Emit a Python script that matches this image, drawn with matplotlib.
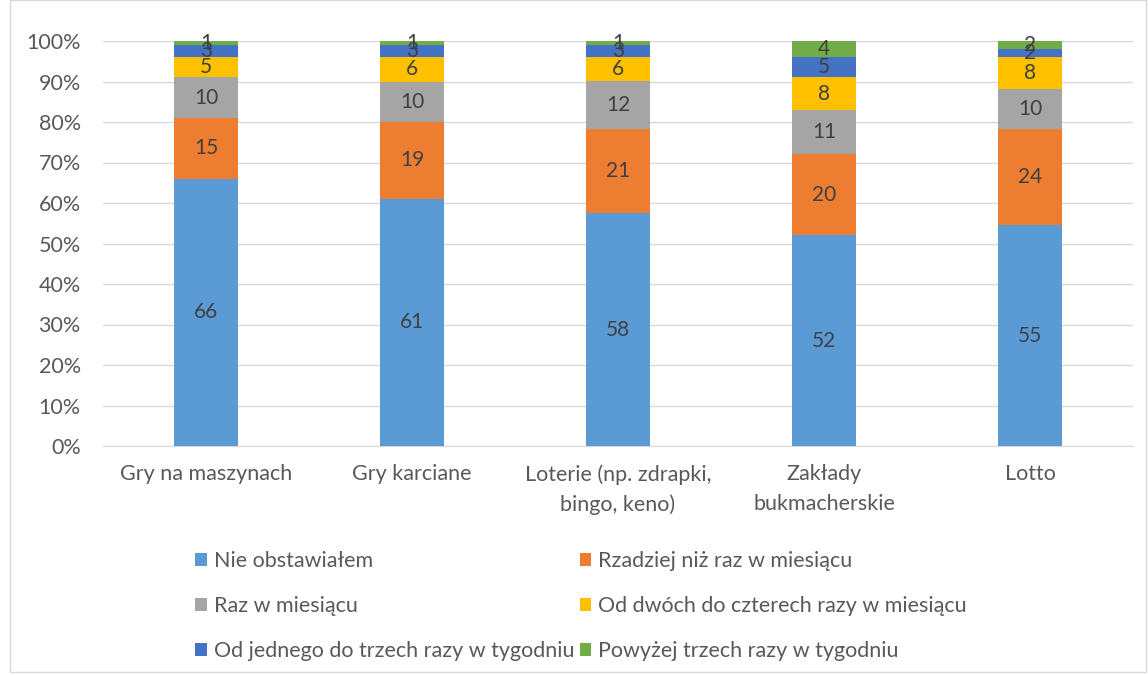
import matplotlib.pyplot as plt
from matplotlib.patches import Rectangle
import numpy as np

plt.rcParams['font.family'] = ['Lato', 'DejaVu Sans']

categories = ["Gry na maszynach", "Gry karciane", "Loterie (np. zdrapki,\nbingo, keno)",
              "Zakłady\nbukmacherskie", "Lotto"]
series_names = ["Nie obstawiałem", "Rzadziej niż raz w miesiącu", "Raz w miesiącu",
                "Od dwóch do czterech razy w miesiącu", "Od jednego do trzech razy w tygodniu",
                "Powyżej trzech razy w tygodniu"]
nie_obstawialem = [66, 61, 58, 52, 55]
rzadziej = [15, 19, 21, 20, 24]
raz_w_miesiacu = [10, 10, 12, 11, 10]
od_dwoch = [5, 6, 6, 8, 8]
od_jednego = [3, 3, 3, 5, 2]
powyzej = [1, 1, 1, 4, 2]
colors = ["#5B9BD5", "#ED7D31", "#A5A5A5", "#FFC000", "#4472C4", "#70AD47"]

data = np.array([nie_obstawialem, rzadziej, raz_w_miesiacu, od_dwoch, od_jednego, powyzej], dtype=float)
pct = data / data.sum(axis=0) * 100

fig = plt.figure(figsize=(11.48, 6.75), dpi=100)
ax = fig.add_axes([103 / 1148, 1 - 446 / 675, 1030 / 1148, 405 / 675])

x = np.arange(len(categories))
bottom = np.zeros(len(categories))
handles = []
for i in range(len(series_names)):
    bars = ax.bar(x, pct[i], 0.31, bottom=bottom, color=colors[i], label=series_names[i], zorder=3)
    handles.append(bars)
    for j in range(len(categories)):
        ax.text(x[j], bottom[j] + pct[i][j] / 2, f"{int(data[i][j])}", ha='center', va='center',
                fontsize=15, color='#404040', zorder=4)
    bottom += pct[i]

ax.set_xlim(-0.5, 4.5)
ax.set_ylim(0, 100)
ax.set_yticks(range(0, 101, 10))
ax.set_yticklabels([f"{v}%" for v in range(0, 101, 10)])
ax.set_xticks(x)
ax.set_xticklabels(categories, linespacing=1.6)
ax.tick_params(axis='both', length=0, labelsize=15.5, labelcolor='#595959')
ax.tick_params(axis='x', pad=13)
ax.tick_params(axis='y', pad=16)
ax.grid(axis='y', color='#D9D9D9', linewidth=1, zorder=0)
for s in ['top', 'right', 'left']:
    ax.spines[s].set_visible(False)
ax.spines['bottom'].set_color('#D9D9D9')

order = [0, 2, 4, 1, 3, 5]
fig.legend([handles[k] for k in order], [series_names[k] for k in order], ncol=2,
           loc='upper left', bbox_to_anchor=(176 / 1148, 1 - 532 / 675), frameon=False,
           fontsize=15.5, labelcolor='#595959', handlelength=0.55, handleheight=0.55,
           handletextpad=0.3, columnspacing=0.25, labelspacing=1.15)

fig.patches.append(Rectangle((10 / 1148, 3 / 675), 1136 / 1148, 672 / 675, transform=fig.transFigure,
                             fill=False, edgecolor='#D9D9D9', linewidth=1))

fig.savefig("out.png", dpi=100)
